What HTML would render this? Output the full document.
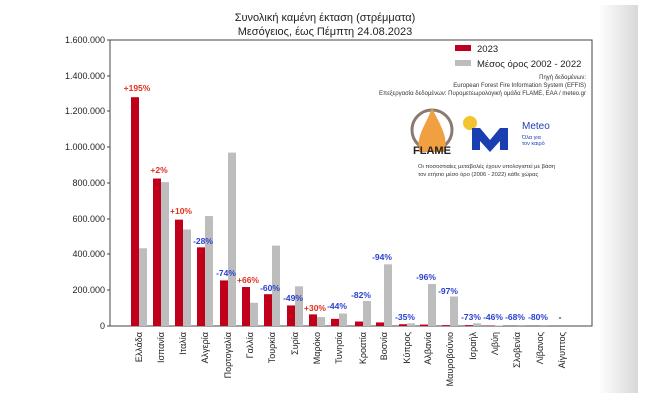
<!DOCTYPE html>
<html><head><meta charset="utf-8"><style>
html,body{margin:0;padding:0;background:#fff;width:650px;height:403px;overflow:hidden}
svg{display:block;font-family:"Liberation Sans","DejaVu Sans",sans-serif}
</style></head><body>
<svg width="650" height="403" viewBox="0 0 650 403">
<defs><linearGradient id="g" x1="0" x2="1"><stop offset="0" stop-color="#fff"/><stop offset="1" stop-color="#d8d8d8"/></linearGradient></defs>
<rect x="598" y="5" width="40" height="388" fill="url(#g)"/>
<text x="325" y="21" font-size="11" text-anchor="middle" fill="#222">Συνολική καμένη έκταση (στρέμματα)</text>
<text x="325" y="35" font-size="11" text-anchor="middle" fill="#222">Μεσόγειος, έως Πέμπτη 24.08.2023</text>
<rect x="110" y="40" width="482" height="286" fill="none" stroke="#444" stroke-width="1"/>
<g font-size="9" fill="#222" text-anchor="end">
<text x="105" y="43">1.600.000</text><text x="105" y="79">1.400.000</text><text x="105" y="114">1.200.000</text>
<text x="105" y="150">1.000.000</text><text x="105" y="186">800.000</text><text x="105" y="222">600.000</text>
<text x="105" y="257">400.000</text><text x="105" y="293">200.000</text><text x="105" y="329">0</text>
</g>
<g stroke="#444"><line x1="107" y1="40" x2="110" y2="40"/><line x1="107" y1="76" x2="110" y2="76"/><line x1="107" y1="111" x2="110" y2="111"/><line x1="107" y1="147" x2="110" y2="147"/><line x1="107" y1="183" x2="110" y2="183"/><line x1="107" y1="219" x2="110" y2="219"/><line x1="107" y1="254" x2="110" y2="254"/><line x1="107" y1="290" x2="110" y2="290"/><line x1="107" y1="326" x2="110" y2="326"/></g>
<g id="bars"></g>
<rect x="455" y="45" width="16" height="6" fill="#c0001a"/><text x="477" y="52" font-size="9.5" fill="#222">2023</text>
<rect x="455" y="60" width="16" height="6" fill="#bdbdbd"/><text x="477" y="67" font-size="9.5" fill="#222">Μέσος όρος 2002 - 2022</text>
<g font-size="6" fill="#333" text-anchor="end">
<text x="586" y="79">Πηγή δεδομένων:</text>
<text x="586" y="87">European Forest Fire Information System (EFFIS)</text>
<text x="586" y="95">Επεξεργασία δεδομένων: Πυρομετεωρολογική ομάδα FLAME, ΕΑΑ / meteo.gr</text>
</g>
<circle cx="432" cy="130" r="20" fill="none" stroke="#8a7a70" stroke-width="3"/>
<path d="M432 108 C440 125 448 135 445 152 L419 152 C416 135 426 125 432 108Z" fill="#f0a040"/>
<text x="432" y="154" font-size="11" font-weight="bold" text-anchor="middle" fill="#222">FLAME</text>
<circle cx="470" cy="123" r="7" fill="#f2c530"/>
<path d="M472 150 L472 128 L480 128 L490 140 L500 128 L508 128 L508 150 L500 150 L500 141 L490 152 L480 141 L480 150Z" fill="#1a3fb0"/>
<text x="522" y="129" font-size="10" fill="#1a3fb0">Meteo</text>
<text x="522" y="139" font-size="5.5" fill="#1a3fb0">Όλα για</text>
<text x="522" y="145" font-size="5.5" fill="#1a3fb0">τον καιρό</text>
<text x="418" y="168" font-size="5.8" fill="#333">Οι ποσοστιαίες μεταβολές έχουν υπολογιστεί με βάση</text>
<text x="418" y="176" font-size="5.8" fill="#333">τον ετήσιο μέσο όρο (2006 - 2022) κάθε χώρας</text>
</svg>
<script>
var d=[["Ελλάδα",139,1280,435,"+195%",91],["Ισπανία",161,825,805,"+2%",173],["Ιταλία",183,595,540,"+10%",214],["Αλγερία",205,440,615,"-28%",244],["Πορτογαλία",228,255,970,"-74%",276],["Γαλλία",250,218,130,"+66%",283],["Τουρκία",272,178,450,"-60%",291],["Συρία",295,115,222,"-49%",301],["Μαρόκο",317,65,50,"+30%",311],["Τυνησία",339,40,70,"-44%",309],["Κροατία",363,25,140,"-82%",298],["Βοσνία",384,20,345,"-94%",260],["Κύπρος",407,10,15,"-35%",320],["Αλβανία",428,8,235,"-96%",280],["Μαυροβούνιο",450,5,165,"-97%",294],["Ισραήλ",473,5,15,"-73%",320],["Λιβύη",495,2,3,"-46%",320],["Σλοβενία",517,1,1,"-68%",320],["Λίβανος",540,1,1,"-80%",320],["Αίγυπτος",562,0,0,"-",320]];
var s="",y=function(v){return 326-v*0.17875};
d.forEach(function(r){var c=r[1];
s+='<rect x="'+(c-8)+'" y="'+y(r[2])+'" width="8" height="'+(r[2]*0.17875)+'" fill="#c0001a"/>';
s+='<rect x="'+c+'" y="'+y(r[3])+'" width="8" height="'+(r[3]*0.17875)+'" fill="#bdbdbd"/>';
var col=r[4][0]=="+"?"#e0301e":(r[4]=="-"?"#222":"#2a40d0");
s+='<text x="'+(c-2)+'" y="'+r[5]+'" font-size="8.5" font-weight="bold" text-anchor="middle" fill="'+col+'">'+r[4]+'</text>';
s+='<text transform="translate('+(c+3)+',332) rotate(-90)" font-size="9" text-anchor="end" fill="#222">'+r[0]+'</text>';});
document.getElementById("bars").innerHTML=s;
</script>
</body></html>
